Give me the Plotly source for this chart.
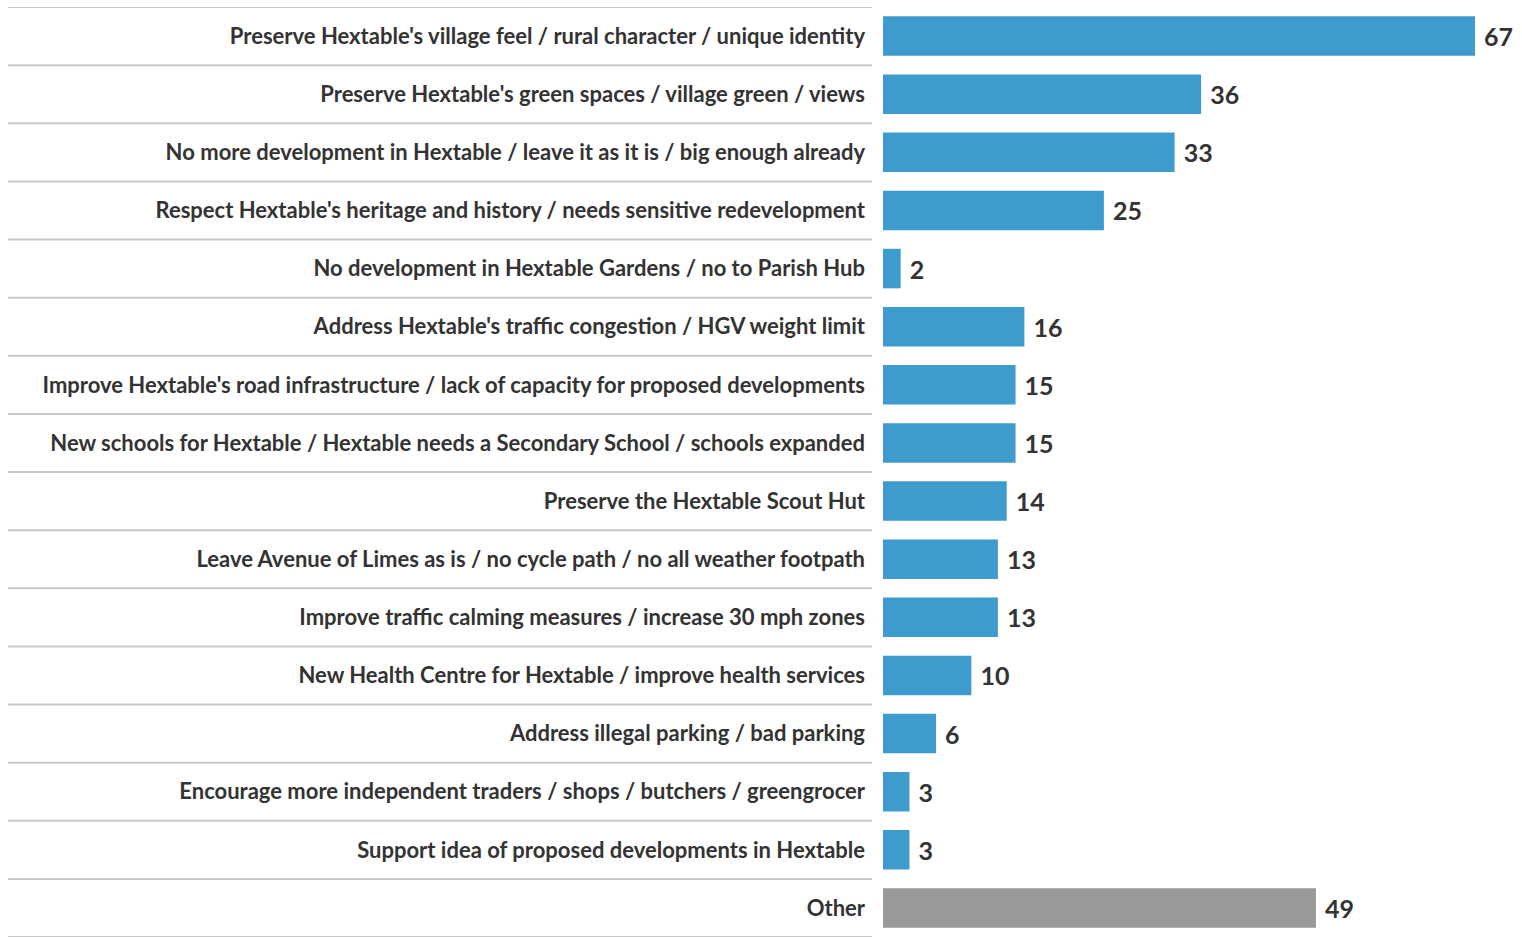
import plotly.graph_objects as go

# Survey themes (top to bottom) and the number of mentions for each
categories = [
    "Preserve Hextable's village feel / rural character / unique identity",
    "Preserve Hextable's green spaces / village green / views",
    "No more development in Hextable / leave it as it is / big enough already",
    "Respect Hextable's heritage and history / needs sensitive redevelopment",
    "No development in Hextable Gardens / no to Parish Hub",
    "Address Hextable's traffic congestion / HGV weight limit",
    "Improve Hextable's road infrastructure / lack of capacity for proposed developments",
    "New schools for Hextable / Hextable needs a Secondary School / schools expanded",
    "Preserve the Hextable Scout Hut",
    "Leave Avenue of Limes as is / no cycle path / no all weather footpath",
    "Improve traffic calming measures / increase 30 mph zones",
    "New Health Centre for Hextable / improve health services",
    "Address illegal parking / bad parking",
    "Encourage more independent traders / shops / butchers / greengrocer",
    "Support idea of proposed developments in Hextable",
    "Other",
]
counts = [67, 36, 33, 25, 2, 16, 15, 15, 14, 13, 13, 10, 6, 3, 3, 49]

BLUE = "#3d9bce"
GREY = "#999999"
colors = [GREY if c == "Other" else BLUE for c in categories]

W, H = 1522, 937
ML, MR, MT, MB = 883, 10, 7, 0
plot_w = W - ML - MR
px_per_unit = 8.836
xmax = plot_w / px_per_unit

fig = go.Figure(
    go.Bar(
        x=counts,
        y=categories,
        orientation="h",
        marker=dict(color=colors, line=dict(width=0)),
        width=0.68,
        texttemplate=" %{x}",
        textposition="outside",
        textfont=dict(family="Lato", size=25, color="#333333", weight="bold"),
        cliponaxis=False,
        hoverinfo="skip",
    )
)

# Thin grey separators between rows, spanning the label column
line_x0 = (8 - ML) / plot_w
line_x1 = (872 - ML) / plot_w
shapes = []
for i in range(len(categories) + 1):
    shapes.append(
        dict(
            type="line",
            xref="paper",
            yref="y",
            x0=line_x0,
            x1=line_x1,
            y0=i - 0.5,
            y1=i - 0.5,
            line=dict(color="#c8c8c8", width=2),
        )
    )

fig.update_layout(
    width=W,
    height=H,
    margin=dict(l=ML, r=MR, t=MT, b=MB, pad=0),
    paper_bgcolor="white",
    plot_bgcolor="white",
    showlegend=False,
    shapes=shapes,
    xaxis=dict(
        range=[0, xmax],
        visible=False,
        fixedrange=True,
    ),
    yaxis=dict(
        categoryorder="array",
        categoryarray=categories,
        range=[len(categories) - 0.5, -0.5],
        showgrid=False,
        zeroline=False,
        showline=False,
        ticks="",
        ticklabelstandoff=17,
        tickfont=dict(family="Lato", size=22, color="#333333", weight="bold"),
        fixedrange=True,
    ),
)

fig.write_html("out.html", config={"displayModeBar": False})
